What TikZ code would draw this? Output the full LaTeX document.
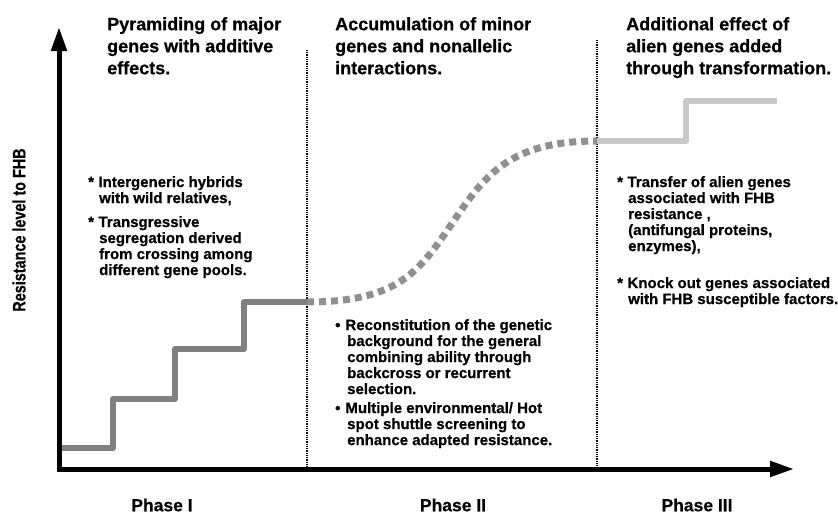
\documentclass[tikz,border=0pt]{standalone}
\usepackage{fontspec}
\setmainfont{Liberation Sans}[BoldFeatures={FakeBold=0.6}]
\usetikzlibrary{arrows.meta}
\definecolor{stairgray}{HTML}{808080}
\definecolor{curvegray}{HTML}{909090}
\definecolor{lightgray2}{HTML}{C8C8C8}
\tikzset{
  axis/.style={line width=5pt, -{Triangle[length=24pt,width=15pt]}},
  divider/.style={line width=1.3pt, dash pattern=on 1pt off 0.8pt},
  heading/.style={anchor=north west, inner sep=0pt, align=left, font=\bfseries\fontsize{18}{22}\selectfont},
  body/.style={anchor=north west, inner sep=0pt, align=left, font=\bfseries\fontsize{15}{16}\selectfont},
  phase/.style={inner sep=0pt, font=\bfseries\fontsize{17.5}{20}\selectfont},
}
\begin{document}
\begin{tikzpicture}[x=1pt,y=-1pt]
\useasboundingbox (0,0) rectangle (838,514);
% coordinates
\coordinate (origin) at (59,469);
\coordinate (ytop) at (59,27);
\coordinate (xorig) at (56.5,469);
\coordinate (xend) at (794,469);
\coordinate (d1top) at (307,50);
\coordinate (d1bot) at (307,469);
\coordinate (d2top) at (597,40);
\coordinate (d2bot) at (597,469);
% staircase
\coordinate (s0) at (62,448);
\coordinate (s1) at (113,448);
\coordinate (s2) at (113,399);
\coordinate (s3) at (175,399);
\coordinate (s4) at (175,349);
\coordinate (s5) at (244,349);
\coordinate (s6) at (244,302);
\coordinate (s7) at (307,302);
\coordinate (cm) at (453,222);
\coordinate (c1) at (597,141);
\coordinate (t1) at (686,141);
\coordinate (t2) at (686,101);
\coordinate (t3) at (777,101);
% dividers
\draw[divider] (d1top) -- (d1bot);
\draw[divider] (d2top) -- (d2bot);
% phase III line
\draw[lightgray2, line width=6pt, line join=round] (c1) -- (t1) -- (t2) -- (t3);
% staircase
\draw[stairgray, line width=6pt, line join=round] (s0) -- (s1) -- (s2) -- (s3) -- (s4) -- (s5) -- (s6) -- (s7);
% dashed curve
\draw[curvegray, line width=7pt, dash pattern=on 7pt off 5pt] (s7) .. controls (400,302) and (420,270) .. (cm) .. controls (485,175) and (510,141) .. (c1);
% axes
\draw[axis] (xorig) -- (xend);
\draw[axis] (origin |- 0,471.5) -- (ytop);
% headings
\node[heading] (h1) at (107,17) {Pyramiding of major\\genes with additive\\effects.};
\node[heading] (h2) at (335,17) {Accumulation of minor\\genes and nonallelic\\interactions.};
\node[heading] (h3) at (626,17) {Additional effect of\\alien genes added\\through transformation.};
% body texts
\node[body] (p1a) at (88,176) {*\hspace{4.5pt}Intergeneric hybrids\\\hspace{11pt}with wild relatives,};
\node[body] (p1b) at (88,216) {*\hspace{4.5pt}Transgressive\\\hspace{11pt}segregation derived\\\hspace{11pt}from crossing among\\\hspace{11pt}different gene pools.};
\node[body] (p2a) at (335,319) {•\hspace{5pt}Reconstitution of the genetic\\\hspace{12pt}background for the general\\\hspace{12pt}combining ability through\\\hspace{12pt}backcross or recurrent\\\hspace{12pt}selection.};
\node[body] (p2b) at (335,402) {•\hspace{5pt}Multiple environmental/ Hot\\\hspace{12pt}spot shuttle screening to\\\hspace{12pt}enhance adapted resistance.};
\node[body] (p3a) at (617,176) {*\hspace{4.5pt}Transfer of alien genes\\\hspace{11pt}associated with FHB\\\hspace{11pt}resistance ,\\\hspace{11pt}(antifungal proteins,\\\hspace{11pt}enzymes),};
\node[body] (p3b) at (617,277) {*\hspace{4.5pt}Knock out genes associated\\\hspace{11pt}with FHB susceptible factors.};
% phase labels
\node[phase] (ph1) at (162,505) {Phase I};
\node[phase] (ph2) at (453,505) {Phase II};
\node[phase] (ph3) at (697,505) {Phase III};
% y label
\node[inner sep=0pt, rotate=90, font=\bfseries\fontsize{18}{20}\selectfont] (ylab) at (19,230) {\scalebox{0.8}[1]{Resistance level to FHB}};
\end{tikzpicture}
\end{document}
